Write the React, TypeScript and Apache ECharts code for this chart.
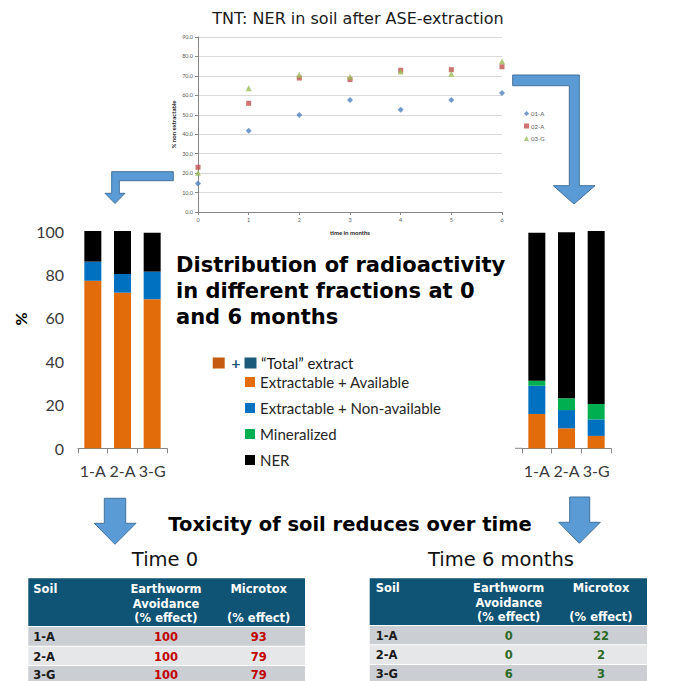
import React, { useEffect, useRef } from 'react';
import * as echarts from 'echarts';

// ---------- Data ----------
const months = [0, 1, 2, 3, 4, 5, 6];
const ner01A = [14.6, 41.8, 49.9, 57.6, 52.6, 57.6, 61.2];
const ner02A = [23.0, 55.9, 68.9, 68.1, 72.9, 73.2, 74.7];
const ner03G = [20.2, 63.6, 70.6, 69.6, 72.2, 71.1, 77.5];
const scatterNames = ['01-A', '02-A', '03-G'];

const soils = ['1-A', '2-A', '3-G'];
const fractionNames = ['Extractable + Available', 'Extractable + Non-available', 'Mineralized', 'NER'];
const t0Available = [77.1, 71.6, 68.6];
const t0NonAvailable = [8.8, 8.6, 12.7];
const t0Mineralized = [0, 0, 0];
const t0NER = [14.1, 19.8, 17.9];
const t6Available = [15.8, 9.2, 5.7];
const t6NonAvailable = [13.0, 8.4, 7.6];
const t6Mineralized = [2.3, 5.4, 7.1];
const t6NER = [68.1, 76.4, 79.6];

const earthwormT0 = [100, 100, 100];
const microtoxT0 = [93, 79, 79];
const earthwormT6 = [0, 0, 6];
const microtoxT6 = [22, 2, 3];

// ---------- Styles ----------
const VERDANA = '"DejaVu Sans", Verdana, sans-serif';
const CALIBRI = 'Lato, "Open Sans", sans-serif';
const fractionColors = ['#E36C0A', '#0070C0', '#00B050', '#000000'];
const arrowFill = '#5B9BD5';
const arrowStroke = '#41719C';
const headerBg = '#0F5474';
const rowDark = '#CBCFD3';
const rowLight = '#E6E7E8';

function txt(x: number, y: number, text: string, o: any = {}) {
  return {
    type: 'text',
    x,
    y,
    rotation: o.rotation ?? 0,
    silent: true,
    style: {
      text,
      fontSize: o.fontSize ?? 12,
      fontFamily: o.fontFamily ?? VERDANA,
      fontWeight: o.fontWeight ?? 'normal',
      fill: o.fill ?? '#000',
      textAlign: o.align ?? 'left',
      align: o.align ?? 'left',
      textVerticalAlign: 'middle',
      verticalAlign: 'middle',
    },
  };
}

function poly(points: number[][]) {
  return {
    type: 'polygon',
    silent: true,
    shape: { points },
    style: { fill: arrowFill, stroke: arrowStroke, lineWidth: 1 },
  };
}

function rect(x: number, y: number, w: number, h: number, fill: string) {
  return { type: 'rect', silent: true, shape: { x, y, width: w, height: h }, style: { fill } };
}

function buildTable(
  x0: number, x1: number, edges: number[], soilX: number, c2: number, c3: number,
  headY: number[], rowY: number[], v1: number[], v2: number[], valColor: string
) {
  const els: any[] = [];
  els.push(rect(x0, edges[0], x1 - x0, edges[1] - edges[0], headerBg));
  for (let i = 0; i < soils.length; i++) {
    els.push(rect(x0, edges[i + 1] + 1, x1 - x0, edges[i + 2] - edges[i + 1] - 1, i % 2 === 0 ? rowDark : rowLight));
  }
  const hs = { fontSize: 11.5, fontWeight: 'bold', fill: '#ffffff' };
  els.push(txt(soilX, headY[0], 'Soil', hs));
  els.push(txt(c2, headY[0], 'Earthworm', { ...hs, align: 'center' }));
  els.push(txt(c2, headY[1], 'Avoidance', { ...hs, align: 'center' }));
  els.push(txt(c2, headY[2], '(% effect)', { ...hs, align: 'center' }));
  els.push(txt(c3, headY[0], 'Microtox', { ...hs, align: 'center' }));
  els.push(txt(c3, headY[2], '(% effect)', { ...hs, align: 'center' }));
  soils.forEach((s, i) => {
    els.push(txt(soilX, rowY[i], s, { fontSize: 11.5, fontWeight: 'bold', fill: '#1a1a1a' }));
    els.push(txt(c2, rowY[i], String(v1[i]), { fontSize: 11.5, fontWeight: 'bold', fill: valColor, align: 'center' }));
    els.push(txt(c3, rowY[i], String(v2[i]), { fontSize: 11.5, fontWeight: 'bold', fill: valColor, align: 'center' }));
  });
  return els;
}

function barSeries(grid: number, stack: string, values: number[][]) {
  return values.map((vals, k) => ({
    type: 'bar',
    name: fractionNames[k],
    xAxisIndex: grid,
    yAxisIndex: grid,
    stack,
    barWidth: 17,
    data: vals,
    itemStyle: { color: fractionColors[k] },
  }));
}

const catAxis = (grid: number) => ({
  type: 'category', gridIndex: grid, data: soils,
  axisLine: { show: true, lineStyle: { color: '#868686', width: 1 } },
  axisTick: { show: true, length: 5, interval: 0, lineStyle: { color: '#868686' } },
  axisLabel: { fontSize: 16, color: '#3a3a3a', margin: 14, fontFamily: CALIBRI, interval: 0, hideOverlap: false },
});

const option: any = {
  animation: false,
  backgroundColor: '#ffffff',
  grid: [
    { left: 198, top: 37, width: 304, height: 175 },
    { left: 78, top: 231, width: 89, height: 217.3 },
    { left: 522, top: 231, width: 89, height: 217.3 },
  ],
  xAxis: [
    {
      type: 'value', gridIndex: 0, min: 0, max: 6, interval: 1,
      axisLine: { show: true, lineStyle: { color: '#868686', width: 1 } },
      axisTick: { show: true, length: 3, lineStyle: { color: '#868686' } },
      axisLabel: { fontSize: 5.5, color: '#595959', margin: 5, fontFamily: CALIBRI },
      splitLine: { show: false },
      name: 'time in months', nameLocation: 'middle', nameGap: 17,
      nameTextStyle: { fontSize: 6, fontWeight: 'bold', color: '#262626', fontFamily: CALIBRI },
    },
    catAxis(1),
    catAxis(2),
  ],
  yAxis: [
    {
      type: 'value', gridIndex: 0, min: 0, max: 90, interval: 10,
      axisLine: { show: true, lineStyle: { color: '#868686', width: 1 } },
      axisTick: { show: true, length: 3, lineStyle: { color: '#868686' } },
      axisLabel: { fontSize: 5.5, color: '#595959', margin: 5, fontFamily: CALIBRI, formatter: (v: number) => v.toFixed(1) },
      splitLine: { show: true, lineStyle: { color: '#D9D9D9', width: 1 } },
      name: '% non extractable', nameLocation: 'middle', nameRotate: 90, nameGap: 22,
      nameTextStyle: { fontSize: 6, fontWeight: 'bold', color: '#262626', fontFamily: CALIBRI },
    },
    {
      type: 'value', gridIndex: 1, min: 0, max: 100, interval: 20,
      axisLine: { show: false }, axisTick: { show: false }, splitLine: { show: false },
      axisLabel: { fontSize: 16, color: '#3a3a3a', margin: 14, fontFamily: CALIBRI },
    },
    {
      type: 'value', gridIndex: 2, min: 0, max: 100, interval: 20, show: false,
      splitLine: { show: false },
    },
  ],
  legend: [
    {
      data: fractionNames,
      orient: 'vertical', left: 245, top: 374, padding: 0,
      itemWidth: 10, itemHeight: 10, itemGap: 10, icon: 'rect',
      textStyle: { fontSize: 15, lineHeight: 16, color: '#262626', fontFamily: CALIBRI },
    },
    {
      data: scatterNames,
      orient: 'vertical', left: 524, top: 110.5, padding: 0,
      itemWidth: 5, itemHeight: 5, itemGap: 6.5,
      textStyle: { fontSize: 6, lineHeight: 6, color: '#595959', fontFamily: CALIBRI, padding: [0, 0, 0, -3] },
    },
  ],
  series: [
    {
      type: 'scatter', name: scatterNames[0], xAxisIndex: 0, yAxisIndex: 0,
      symbol: 'diamond', symbolSize: 6, itemStyle: { color: '#4F81BD' },
      data: months.map((m, i) => [m, ner01A[i]]),
    },
    {
      type: 'scatter', name: scatterNames[1], xAxisIndex: 0, yAxisIndex: 0,
      symbol: 'rect', symbolSize: 5, itemStyle: { color: '#C0504D' },
      data: months.map((m, i) => [m, ner02A[i]]),
    },
    {
      type: 'scatter', name: scatterNames[2], xAxisIndex: 0, yAxisIndex: 0,
      symbol: 'triangle', symbolSize: 6, itemStyle: { color: '#9BBB59' },
      data: months.map((m, i) => [m, ner03G[i]]),
    },
    ...barSeries(1, 't0', [t0Available, t0NonAvailable, t0Mineralized, t0NER]),
    ...barSeries(2, 't6', [t6Available, t6NonAvailable, t6Mineralized, t6NER]),
  ],
  graphic: [
    // titles
    txt(358, 18, 'TNT: NER in soil after ASE-extraction', { fontSize: 16, fill: '#1a1a1a', align: 'center' }),
    txt(176, 265, 'Distribution of radioactivity', { fontSize: 21, fontWeight: 'bold' }),
    txt(176, 291, 'in different fractions at 0', { fontSize: 21, fontWeight: 'bold' }),
    txt(176, 317, 'and 6 months', { fontSize: 21, fontWeight: 'bold' }),
    txt(20, 319, '%', { fontSize: 16, fontWeight: 'bold', fontFamily: CALIBRI, align: 'center', rotation: Math.PI / 2 }),
    // "Total" extract line
    rect(212.7, 357.5, 12, 11, '#C55A11'),
    txt(236, 362.5, '+', { fontSize: 16, fontWeight: 'bold', fill: '#1F5A78', fontFamily: CALIBRI, align: 'center' }),
    rect(244.5, 357.5, 12, 11, '#1B5A78'),
    txt(261, 362.5, '\u201CTotal\u201D extract', { fontSize: 15, fill: '#1a1a1a', fontFamily: CALIBRI }),
    // small axis-line stub on right bar chart
    { type: 'line', silent: true, shape: { x1: 515, y1: 448.3, x2: 522, y2: 448.3 }, style: { stroke: '#868686', lineWidth: 1 } },
    // arrows
    poly([[173.3, 171.7], [111.7, 171.7], [111.7, 193.3], [105, 193.3], [115, 203.5], [125, 193.3], [119.3, 193.3], [119.3, 180.7], [173.3, 180.7]]),
    poly([[512.7, 75], [579.3, 75], [579.3, 185.7], [595, 185.7], [574, 204], [553.3, 185.7], [569.3, 185.7], [569.3, 85.7], [512.7, 85.7]]),
    poly([[104.3, 498.3], [125.7, 498.3], [125.7, 523.3], [136, 523.3], [115, 544.3], [94.3, 523.3], [104.3, 523.3]]),
    poly([[569.7, 497], [589.7, 497], [589.7, 522.3], [600.3, 522.3], [579.3, 543.3], [558.7, 522.3], [569.7, 522.3]]),
    // bottom titles
    txt(168.3, 524.3, 'Toxicity of soil reduces over time', { fontSize: 19.5, fontWeight: 'bold' }),
    txt(165, 559, 'Time 0', { fontSize: 19.5, fill: '#111', align: 'center' }),
    txt(501, 559, 'Time 6 months', { fontSize: 19.5, fill: '#111', align: 'center' }),
    // tables
    ...buildTable(28.3, 305, [578.3, 626, 645.7, 665, 685], 33.3, 166, 258.7,
      [589, 604, 617.7], [636.7, 656.7, 675.3], earthwormT0, microtoxT0, '#C00000'),
    ...buildTable(369.7, 647, [578.3, 625, 644.3, 664, 684], 375.7, 508.7, 601,
      [588, 603, 616.7], [635.7, 655, 674], earthwormT6, microtoxT6, '#2D6A27'),
  ],
};

export default function App() {
  const ref = useRef<HTMLDivElement>(null);
  useEffect(() => {
    const chart = echarts.init(ref.current!, null, { renderer: 'svg' });
    chart.setOption(option);
    return () => chart.dispose();
  }, []);
  return (
    <div
      ref={ref}
      style={{ position: 'absolute', left: 0, top: 0, width: 694, height: 681, background: '#fff' }}
    />
  );
}
